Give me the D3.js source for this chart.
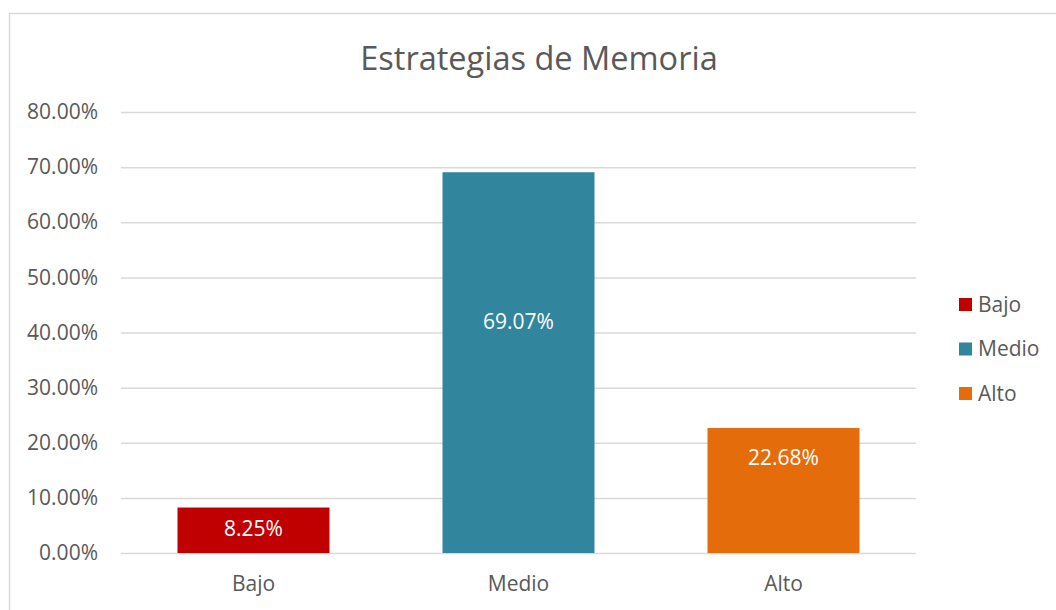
<!DOCTYPE html>
<html>
<head>
<meta charset="utf-8">
<script src="https://cdn.jsdelivr.net/npm/d3@7"></script>
<style>
  body { margin: 0; background: #fff; }
  text { font-family: "Open Sans", sans-serif; }
</style>
</head>
<body>
<svg id="chart"></svg>
<script>
// data
var categories = ["Bajo", "Medio", "Alto"];
var values = [0.0825, 0.6907, 0.2268];
var valueLabels = ["8.25%", "69.07%", "22.68%"];
var labelAt = [0.045, 0.42, 0.173]; // where the value labels sit, in axis units
var colors = ["#C00000", "#31859C", "#E46C0A"];
var yTicks = [0, 0.1, 0.2, 0.3, 0.4, 0.5, 0.6, 0.7, 0.8];

var W = 1056, H = 610;
var margins = { top: 112, left: 121, bottom: 57, right: 140 };
var width = W - margins.left - margins.right;
var height = H - margins.top - margins.bottom;

var svg = d3.select("#chart").attr("width", W).attr("height", H);

// chart frame
svg.append("rect")
  .attr("x", 9.5).attr("y", 13.5)
  .attr("width", W).attr("height", H)
  .attr("fill", "none").attr("stroke", "#d9d9d9").attr("stroke-width", 1.5);

svg.append("text")
  .attr("x", 539).attr("y", 70)
  .attr("text-anchor", "middle")
  .attr("font-size", 32.5)
  .attr("fill", "#595959")
  .text("Estrategias de Memoria");

var g = svg.append("g").attr("transform", "translate(" + margins.left + "," + margins.top + ")");

var x = d3.scaleBand().domain(categories).range([0, width]).paddingInner(0.4264).paddingOuter(0.2132);
var y = d3.scaleLinear().domain([0, 0.8]).range([height, 0]);

// gridlines + y labels
var yAxis = d3.axisLeft(y).tickValues(yTicks).tickSize(-width).tickPadding(23)
  .tickFormat(function(d) { return (d * 100).toFixed(2) + "%"; });
var yG = g.append("g").call(yAxis);
yG.select(".domain").remove();
yG.selectAll(".tick line").attr("stroke", "#d9d9d9").attr("stroke-width", 1.5);
yG.selectAll(".tick text").attr("fill", "#595959").attr("font-size", 21);

// bars
g.selectAll(".bar").data(values).enter().append("rect")
  .attr("class", "bar")
  .attr("x", function(d, i) { return x(categories[i]); })
  .attr("y", function(d) { return y(d); })
  .attr("width", x.bandwidth())
  .attr("height", function(d) { return height - y(d); })
  .attr("fill", function(d, i) { return colors[i]; });

g.selectAll(".vlab").data(valueLabels).enter().append("text")
  .attr("x", function(d, i) { return x(categories[i]) + x.bandwidth() / 2; })
  .attr("y", function(d, i) { return y(labelAt[i]); })
  .attr("dy", "0.35em")
  .attr("text-anchor", "middle")
  .attr("font-size", 21)
  .attr("fill", "#fff")
  .text(function(d) { return d; });

// x labels
var xAxis = d3.axisBottom(x).tickSize(0).tickPadding(23);
var xG = g.append("g").attr("transform", "translate(0," + height + ")").call(xAxis);
xG.select(".domain").remove();
xG.selectAll(".tick text").attr("fill", "#595959").attr("font-size", 21);

// legend
var legend = svg.append("g").attr("transform", "translate(959,298)");
var item = legend.selectAll("g").data(categories).enter().append("g")
  .attr("transform", function(d, i) { return "translate(0," + i * 44.5 + ")"; });
item.append("rect").attr("width", 13).attr("height", 13)
  .attr("fill", function(d, i) { return colors[i]; });
item.append("text").attr("x", 19).attr("y", 6.5).attr("dy", "0.35em")
  .attr("font-size", 21).attr("fill", "#595959")
  .text(function(d) { return d; });
</script>
</body>
</html>
